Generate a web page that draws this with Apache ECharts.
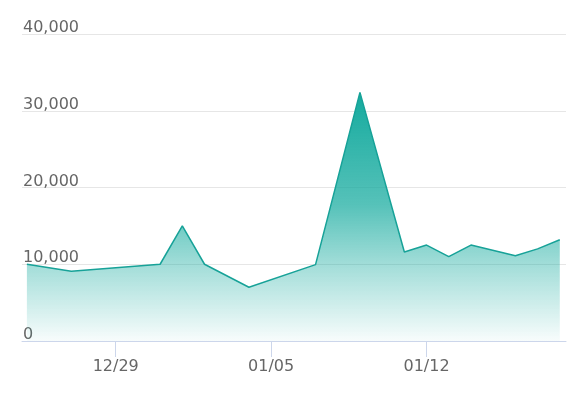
<!DOCTYPE html>
<html>
<head>
<meta charset="utf-8">
<script src="https://cdn.jsdelivr.net/npm/echarts@6/dist/echarts.min.js"></script>
<style>html,body{margin:0;padding:0;background:#fff}#c{width:582px;height:403px}</style>
</head>
<body>
<div id="c"></div>
<script>
var dates = ['2014-12-25','2014-12-27','2014-12-31','2015-01-01','2015-01-02','2015-01-04','2015-01-07','2015-01-09','2015-01-11','2015-01-12','2015-01-13','2015-01-14','2015-01-16','2015-01-17','2015-01-18'];
var values = [10000, 9100, 10000, 15000, 10000, 7000, 9950, 32400, 11600, 12500, 11000, 12500, 11100, 12000, 13200];
var tickDates = ['2014-12-29','2015-01-05','2015-01-12'];
var yTicks = [0, 10000, 20000, 30000, 40000];

function ts(s){var p=s.split('-');return Date.UTC(+p[0],+p[1]-1,+p[2]);}
var DAY = 86400000;
var base = ts(dates[0]);
function dayIdx(s){return Math.round((ts(s)-base)/DAY);}
var chart = echarts.init(document.getElementById('c'));
var data = dates.map(function(d,i){return [dayIdx(d), values[i]];});
var tickIdx = tickDates.map(dayIdx);
var font = 'DejaVu Sans';
chart.setOption({
  animation:false,
  grid:{left:22,right:16,top:34,bottom:62,containLabel:false},
  xAxis:{
    type:'value',
    min: -0.22,
    max: dayIdx(dates[dates.length-1]) + 0.28,
    axisLine:{lineStyle:{color:'#ccd6eb',width:1}},
    axisTick:{show:true,length:16,lineStyle:{color:'#ccd6eb'},customValues:tickIdx},
    axisLabel:{customValues:tickIdx,margin:18,color:'#666',fontSize:16,fontFamily:font,
      formatter:function(v){var d=new Date(base+Math.round(v)*DAY);var m=d.getUTCMonth()+1,dd=d.getUTCDate();return (m<10?'0':'')+m+'/'+(dd<10?'0':'')+dd;}},
    splitLine:{show:false}
  },
  yAxis:{
    type:'value',min:yTicks[0],max:yTicks[yTicks.length-1],interval:10000,
    axisLine:{show:false},axisTick:{show:false},
    axisLabel:{inside:true,margin:1,verticalAlign:'bottom',lineHeight:12,color:'#666',fontSize:16,fontFamily:font,
      formatter:function(v){return v.toLocaleString('en-US');}},
    splitLine:{lineStyle:{color:'#e6e6e6',width:1}}
  },
  series:[{
    type:'line',data:data,symbol:'none',
    lineStyle:{color:'#17a298',width:1.5},
    areaStyle:{opacity:1,color:new echarts.graphic.LinearGradient(0,0,0,1,[
      {offset:0,color:'rgba(20,170,158,1)'},
      {offset:0.45,color:'rgba(20,170,158,0.72)'},
      {offset:0.69,color:'rgba(20,170,158,0.40)'},
      {offset:1,color:'rgba(20,170,158,0.03)'}])}
  }]
});
</script>
</body>
</html>
